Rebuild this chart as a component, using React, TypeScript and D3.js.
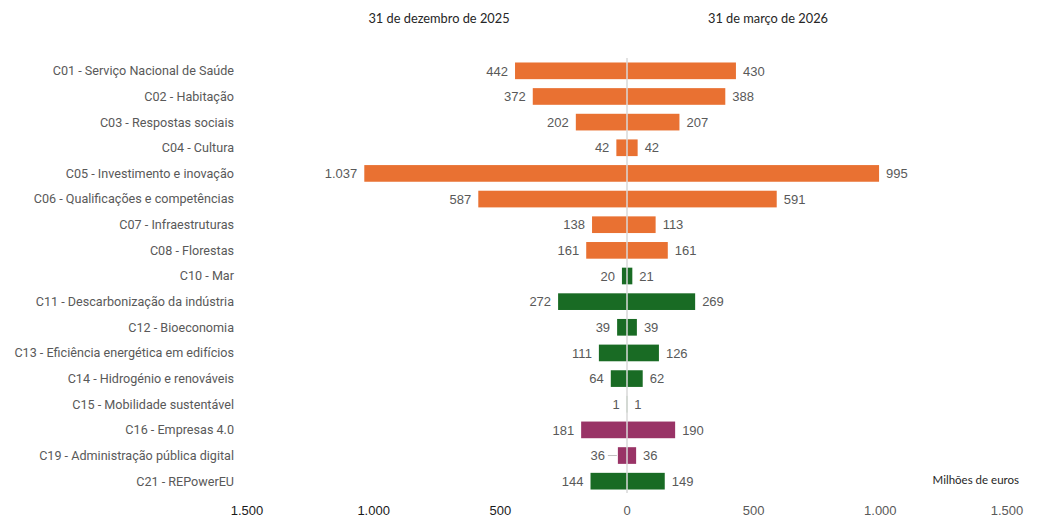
import React from "react";
import * as d3 from "d3";

const categories = [
  "C01 - Serviço Nacional de Saúde",
  "C02 - Habitação",
  "C03 - Respostas sociais",
  "C04 - Cultura",
  "C05 - Investimento e inovação",
  "C06 - Qualificações e competências",
  "C07 - Infraestruturas",
  "C08 - Florestas",
  "C10 - Mar",
  "C11 - Descarbonização da indústria",
  "C12 - Bioeconomia",
  "C13 - Eficiência energética em edifícios",
  "C14 - Hidrogénio e renováveis",
  "C15 - Mobilidade sustentável",
  "C16 - Empresas 4.0",
  "C19 - Administração pública digital",
  "C21 - REPowerEU",
];
const dec2025 = [442, 372, 202, 42, 1037, 587, 138, 161, 20, 272, 39, 111, 64, 1, 181, 36, 144];
const mar2026 = [430, 388, 207, 42, 995, 591, 113, 161, 21, 269, 39, 126, 62, 1, 190, 36, 149];
const groups = ["r", "r", "r", "r", "r", "r", "r", "r", "c", "c", "c", "c", "c", "c", "d", "d", "c"];
const groupColors: Record<string, string> = { r: "#E97132", c: "#196B24", d: "#993366" };
const ticks = [0, 500, 1000, 1500];
const titles = ["31 de dezembro de 2025", "31 de março de 2026"];
const unitLabel = "Milhões de euros";

const locale = d3.formatLocale({ decimal: ",", thousands: ".", grouping: [3], currency: ["", "€"] });
const fmt = locale.format(",d");

export default function App() {
  const W = 1038, H = 518;
  const cx = 627;
  const xR = d3.scaleLinear().domain([0, 1500]).range([cx, 1007]);
  const xL = d3.scaleLinear().domain([0, 1500]).range([cx, 247]);
  const y = d3.scaleBand<string>().domain(categories).range([58, 494]).paddingInner(0.35).paddingOuter(0.175);
  const bw = y.bandwidth();
  const valFont = "'Liberation Sans', Arial, sans-serif";
  const labFont = "Roboto, 'Liberation Sans', sans-serif";
  const titleFont = "Lato, 'Open Sans', sans-serif";

  return (
    <svg width={W} height={H} style={{ position: "absolute", left: 0, top: 0, background: "#fff" }}>
      {titles.map((t, i) => (
        <text key={t} x={i === 0 ? 439 : 768} y={23} textAnchor="middle" fontFamily={titleFont} fontSize={12.8} fill="#262626">
          {t}
        </text>
      ))}
      {categories.map((c, i) => {
        const yc = (y(c) as number) + bw / 2;
        const color = groupColors[groups[i]];
        const l = dec2025[i], r = mar2026[i];
        const lx = xL(l), rx = xR(r);
        const hasLeader = c.startsWith("C19");
        return (
          <g key={c}>
            <text x={234} y={yc} dy="0.35em" textAnchor="end" fontFamily={labFont} fontSize={12.6} fill="#595959">
              {c}
            </text>
            <rect x={lx} y={y(c)} width={cx - lx} height={bw} fill={color} />
            <rect x={cx} y={y(c)} width={rx - cx} height={bw} fill={color} />
            {hasLeader && <line x1={lx - 10} x2={lx - 1} y1={yc} y2={yc} stroke="#bfbfbf" strokeWidth={1} />}
            <text x={hasLeader ? lx - 13 : lx - 7} y={yc} dy="0.36em" textAnchor="end" fontFamily={valFont} fontSize={13} fill="#595959">
              {fmt(l)}
            </text>
            <text x={rx + 7} y={yc} dy="0.36em" textAnchor="start" fontFamily={valFont} fontSize={13} fill="#595959">
              {fmt(r)}
            </text>
          </g>
        );
      })}
      <line x1={cx} x2={cx} y1={58} y2={493} stroke="#d9d9d9" strokeWidth={1.5} />
      {ticks.filter((t) => t > 0).map((t) => (
        <text key={"l" + t} x={xL(t)} y={515} textAnchor="middle" fontFamily={valFont} fontSize={13} fill="#1a1a1a">
          {fmt(t)}
        </text>
      ))}
      {ticks.map((t) => (
        <text key={"r" + t} x={xR(t)} y={515} textAnchor="middle" fontFamily={valFont} fontSize={13} fill="#595959">
          {fmt(t)}
        </text>
      ))}
      <text x={1019} y={484} textAnchor="end" fontFamily={titleFont} fontSize={11.5} fill="#262626">
        {unitLabel}
      </text>
    </svg>
  );
}
